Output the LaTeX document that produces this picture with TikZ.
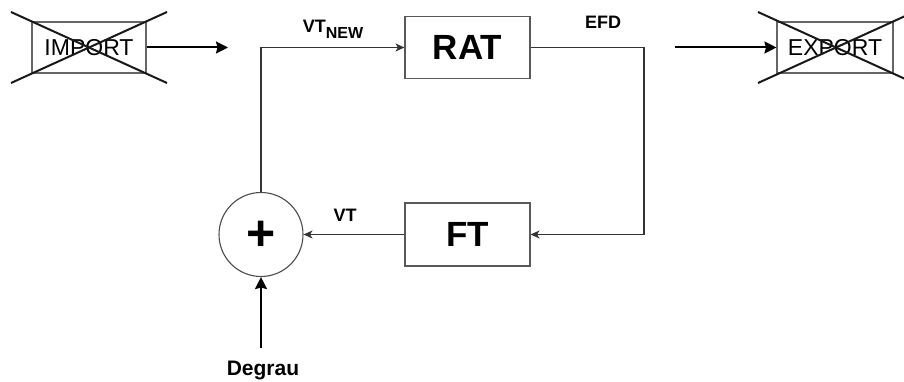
\documentclass[tikz,border=0pt]{standalone}
\usepackage{fontspec}
\setmainfont{Liberation Sans}
\usetikzlibrary{arrows.meta,calc}
\begin{document}
\begin{tikzpicture}[x=1pt,y=-1pt,
  wire/.style={draw=black!80,line width=1.1pt},
  thinarrow/.style={wire,-{Stealth[length=9pt,width=8pt,inset=2.5pt]}},
  thickarrow/.style={draw=black,line width=2pt,-{Stealth[length=12pt,width=12pt,inset=1.5pt]}},
  blockbox/.style={draw=black!65,line width=1.1pt,minimum width=125pt,minimum height=62pt,inner sep=0pt,font=\fontsize{35}{40}\selectfont\bfseries},
  ioblock/.style={draw=black!60,line width=1.1pt,minimum height=51pt,inner sep=0pt,font=\fontsize{23}{27}\selectfont},
  crossline/.style={draw=black!90,line width=2pt},
  lbl/.style={inner sep=0pt,font=\fontsize{18}{21}\selectfont\bfseries}]
\useasboundingbox (0,0) rectangle (904,382);
\begin{scope}
\clip (0,0) rectangle (904,382);
% IMPORT
\node[ioblock,minimum width=114pt] (imp) at (89,47.5) {IMPORT};
\draw[crossline] (imp.center) ++(-78,-35.5) -- ++(156,71);
\draw[crossline] (imp.center) ++(-78,35.5) -- ++(156,-71);
% EXPORT
\node[ioblock,minimum width=116pt] (exp) at (835,47.5) {EXPORT};
\draw[crossline] (exp.center) ++(-77,-35.5) -- ++(156,71);
\draw[crossline] (exp.center) ++(-77,35.5) -- ++(156,-71);
\end{scope}
\coordinate (impend) at (228,47.5);
\coordinate (expstart) at (675,47.5);
\draw[thickarrow] (imp.east) -- (impend);
\draw[thickarrow] (expstart) -- (exp.west);
% blocks
\node[blockbox] (rat) at (467.5,47.5) {RAT};
\node[blockbox,minimum height=63pt] (ft) at (467.5,234.5) {FT};
\node[circle,draw=black!70,line width=1.1pt,minimum size=84pt,inner sep=0pt] (sum) at (261,234.5) {};
\node[inner sep=0pt,font=\fontsize{50}{50}\selectfont\bfseries] (plus) at (261,236) {+};
\coordinate (rcorner) at (644,47.5);
\draw[thinarrow] (sum.north) -- (sum.north |- rat.west) -- (rat.west);
\draw[thinarrow] (rat.east) -- (rcorner) |- (ft.east);
\draw[thinarrow] (ft.west) -- (sum.east);
\coordinate (dstart) at (261,348);
\draw[thickarrow] (dstart) -- (sum.south);
% labels
\node[lbl] (vtnew) at (333,29) {VT\raisebox{-6pt}{\fontsize{16}{19}\selectfont NEW}};
\node[lbl] (efd) at (603,22) {EFD};
\node[lbl] (vt) at (345,215) {VT};
\node[lbl,font=\fontsize{21}{25}\selectfont\bfseries] (deg) at (263,370) {Degrau};
\end{tikzpicture}
\end{document}
